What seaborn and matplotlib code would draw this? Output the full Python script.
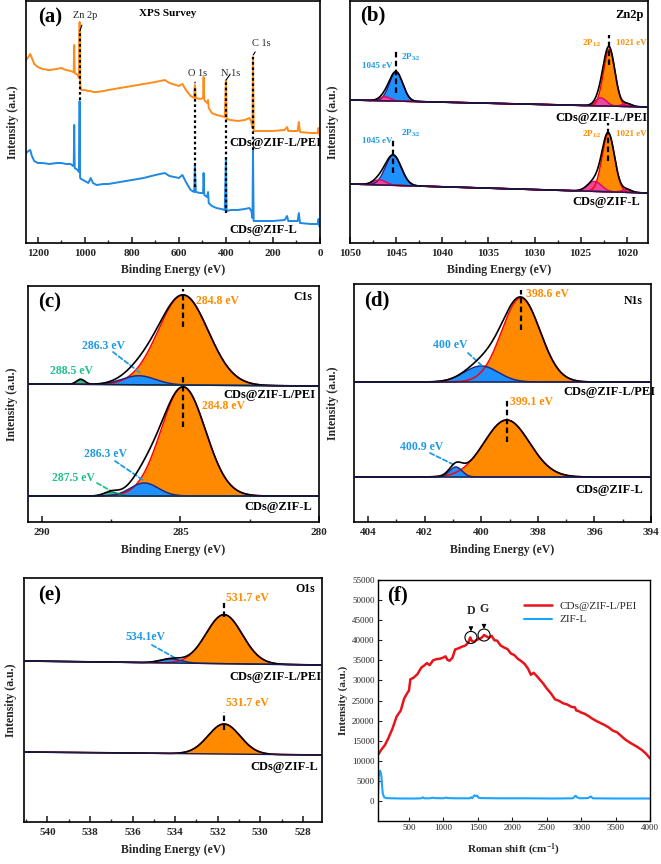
import numpy as np
import seaborn as sns
import matplotlib.pyplot as plt
from matplotlib.ticker import MultipleLocator

# ---------------- data ----------------
# (a) XPS survey, binding energy (eV) and intensity (a.u.)
survey_be = [1250, 1240, 1232, 1225, 1215, 1200, 1180, 1150, 1120, 1100,
             1080, 1060, 1050, 1047, 1045, 1043, 1030, 1025, 1022, 1020,
             1015, 1000, 985, 975, 965, 950, 920, 900, 850, 800,
             750, 700, 660, 640, 600, 585, 570, 550, 535, 532,
             528, 510, 497, 495, 492, 480, 476, 473, 460, 440,
             420, 405, 400, 397, 380, 350, 320, 300, 292, 287,
             285, 282, 260, 200, 150, 140, 135, 95, 90, 85,
             40, 10, 6, 3, 0]
survey_pei = [183, 186, 189, 185, 179, 176, 174, 173, 174, 175,
              173, 172, 171, 171, 198, 170, 168, 165, 221, 158,
              153, 153, 152, 152, 151, 151, 152, 153, 155, 157,
              159, 161, 163, 160, 157, 159, 153, 147, 145, 158,
              145, 144, 145, 166, 143, 140, 143, 135, 130, 128,
              127, 126, 163, 124, 123, 122, 123, 125, 121, 115,
              186, 112, 112, 112, 113, 116, 112, 112, 121, 111,
              110, 110, 115, 109, 107]
survey_zifl = [90, 92, 93, 87, 82, 80, 80, 79, 80, 80,
               79, 79, 77, 77, 118, 75, 73, 71, 142, 65,
               64, 62, 60, 65, 60, 58, 59, 59, 61, 63,
               65, 68, 70, 67, 65, 68, 61, 53, 51, 78,
               51, 50, 50, 70, 48, 46, 51, 40, 37, 35,
               34, 33, 85, 32, 33, 33, 34, 35, 32, 25,
               93, 22, 22, 22, 23, 27, 22, 22, 30, 20,
               19, 19, 24, 17, 16]
survey_peak_be = [1021, 532, 399, 284]
survey_peak_names = ['Zn 2p', 'O 1s', 'N 1s', 'C 1s']

# (b) Zn2p fit components: 2P3/2, satellite, 2P1/2, satellite, satellite
zn_pei_center = [1045.0, 1046.2, 1021.9, 1022.8, 1020.0]
zn_pei_height = [29, 4, 57, 8, 3]
zn_pei_width = [0.72, 0.6, 0.62, 0.6, 0.5]
zn_pei_base = [143, 136]
zn_zifl_center = [1045.3, 1046.8, 1022.0, 1023.5, 1020.0]
zn_zifl_height = [30, 5, 58, 10, 3]
zn_zifl_width = [0.85, 0.7, 0.68, 0.75, 0.5]
zn_zifl_base = [59, 50]

# (c) C1s
c1s_pei_center = [284.9, 286.5, 288.6]
c1s_pei_height = [90, 9, 5]
c1s_pei_width = [0.9, 0.6, 0.15]
c1s_pei_base = [138, 136]
c1s_zifl_center = [284.9, 286.3, 287.5]
c1s_zifl_height = [109, 13, 4]
c1s_zifl_width = [0.8, 0.5, 0.25]
c1s_zifl_base = [26, 26]

# (d) N1s
n1s_pei_center = [398.6, 400.0]
n1s_pei_height = [84, 16]
n1s_pei_width = [0.68, 0.6]
n1s_pei_base = [140, 140]
n1s_zifl_center = [399.1, 400.9]
n1s_zifl_height = [57, 10]
n1s_zifl_width = [0.8, 0.22]
n1s_zifl_base = [45, 45]

# (e) O1s
o1s_pei_center = [531.7, 534.2]
o1s_pei_height = [49, 4]
o1s_pei_width = [0.85, 0.5]
o1s_pei_base = [161, 157]
o1s_zifl_center = [531.7]
o1s_zifl_height = [30]
o1s_zifl_width = [0.75]
o1s_zifl_base = [70, 67]

# (f) Raman
raman_shift = [50, 100, 150, 200, 260, 320, 380, 430, 470, 500,
               520, 560, 620, 680, 720, 760, 800, 850, 900, 950,
               1000, 1030, 1060, 1090, 1130, 1170, 1220, 1270, 1320, 1360,
               1390, 1410, 1440, 1480, 1520, 1560, 1590, 1620, 1660, 1700,
               1740, 1780, 1830, 1880, 1930, 1980, 2030, 2080, 2130, 2180,
               2230, 2270, 2310, 2350, 2400, 2450, 2500, 2560, 2620, 2680,
               2740, 2800, 2860, 2910, 2930, 2960, 3000, 3050, 3100, 3160,
               3220, 3280, 3340, 3400, 3460, 3520, 3580, 3640, 3700, 3760,
               3820, 3880, 3940, 4000]
raman_pei = [11500, 12800, 13900, 15600, 18000, 21000, 22500, 25500, 26700, 27500,
             30300, 30600, 31500, 33200, 33700, 34300, 33800, 35000, 35300, 35400,
             35700, 36000, 35100, 34900, 35600, 37700, 38000, 38400, 38700, 39400,
             40700, 39900, 39600, 40100, 40300, 40700, 41300, 41000, 40600, 41100,
             40000, 39900, 38700, 38200, 37800, 36700, 36300, 35400, 34800, 34100,
             32900, 31400, 31900, 31200, 30200, 29200, 28000, 26800, 25300, 24900,
             24300, 24000, 23400, 23300, 22500, 22400, 22000, 21700, 21200, 20500,
             19900, 19400, 18900, 18300, 17500, 17100, 16200, 15300, 14600, 14000,
             13400, 12700, 11800, 10600]
zif_shift = [50, 60, 70, 80, 90, 100, 110, 120, 140, 170,
             250, 400, 600, 680, 700, 720, 800, 850, 870, 1000,
             1040, 1060, 1200, 1380, 1400, 1420, 1450, 1470, 1490, 1510,
             1540, 1800, 2200, 2600, 2880, 2920, 2940, 2980, 3100, 3140,
             3170, 3500, 4000]
zif_int = [1500, 6000, 7300, 7500, 7000, 6000, 3500, 1800, 900, 700,
           650, 600, 600, 650, 900, 650, 650, 800, 700, 650,
           850, 700, 650, 650, 900, 700, 1400, 1200, 1300, 800,
           700, 650, 650, 600, 650, 1300, 900, 650, 700, 1100,
           650, 600, 600]
raman_band_shift = [1400, 1590]
raman_band_int = [40700, 41300]
raman_band_names = ['D', 'G']

# ---------------- style ----------------
ORANGE = '#FF8A00'
BLUE = '#1E90FF'
PINK = '#F0479E'
TEAL = '#2DC48F'
TXT_BLUE = '#1E9BE6'
TXT_ORANGE = '#FF8C00'
TXT_TEAL = '#22C08A'

sns.set_theme(style='ticks')
plt.rcParams['font.family'] = ['Liberation Serif', 'DejaVu Serif']
plt.rcParams['font.weight'] = 'bold'
plt.rcParams['axes.labelweight'] = 'bold'
plt.rcParams['mathtext.fontset'] = 'custom'
plt.rcParams['mathtext.rm'] = 'Liberation Serif:bold'
plt.rcParams['mathtext.bf'] = 'Liberation Serif:bold'
plt.rcParams['mathtext.it'] = 'Liberation Serif:bold'
plt.rcParams['mathtext.default'] = 'regular'

W, H = 661, 864
fig = plt.figure(figsize=(W / 100, H / 100), dpi=100)


def box(l, t, r, b):
    return [l / W, 1 - b / H, (r - l) / W, (b - t) / H]


def fp(x, y):
    return (x / W, 1 - y / H)


def label(x, y, s, size, color='black', weight='bold', ha='center'):
    fig.text(x / W, 1 - y / H, s, fontsize=size, color=color,
             fontweight=weight, ha=ha, va='center')


def gauss(x, c, h, w):
    return h * np.exp(-(x - c) ** 2 / (2 * w ** 2))


def style_xps(ax, xlim, ylim, major, minor, ylabelpad):
    ax.set_xlim(*xlim)
    ax.set_ylim(*ylim)
    ax.set_yticks([])
    ax.xaxis.set_major_locator(MultipleLocator(major))
    ax.xaxis.set_minor_locator(MultipleLocator(minor))
    ax.tick_params(axis='x', which='major', direction='in', length=4,
                   width=1.2, labelsize=8, pad=4)
    ax.tick_params(axis='x', which='minor', direction='in', length=2, width=1)
    for s in ax.spines.values():
        s.set_linewidth(1.2)
        s.set_color('black')
    ax.set_xlabel('Binding Energy (eV)', fontsize=8.5, labelpad=5)
    ax.set_ylabel('Intensity (a.u.)', fontsize=8.5, labelpad=ylabelpad)


def draw_fit(ax, xlim, base, centers, heights, widths, colors):
    x = np.linspace(xlim[0], xlim[1], 1500)
    bl = base[0] + (base[1] - base[0]) * (x - xlim[0]) / (xlim[1] - xlim[0])
    comps = [gauss(x, c, h, w) for c, h, w in zip(centers, heights, widths)]
    for i in np.argsort(heights)[::-1]:
        fill, edge = colors[i]
        ax.fill_between(x, bl, bl + comps[i], color=fill, lw=0, zorder=2)
        ax.plot(x, bl + comps[i], color=edge, lw=1.1, zorder=3)
    ax.plot(x, bl + np.sum(comps, axis=0), color='black', lw=1.2, zorder=4)
    ax.plot(x, bl, color='#1b1b4d', lw=1.0, zorder=4)


def vmark(ax, c, y0, y1):
    ax.plot([c, c], [y0, y1], color='black', lw=1.6, ls=(0, (2.5, 1.5)), zorder=5)


def leader(ax, xy, start, color):
    ax.annotate('', xy=xy, xytext=fp(*start), textcoords='figure fraction',
                arrowprops=dict(arrowstyle='-', color=color, lw=1.3,
                                ls=(0, (2.5, 1.5)), shrinkA=0, shrinkB=0))


C_OR = (ORANGE, 'red')
C_BL = (BLUE, '#1a2a8a')
C_PK = (PINK, '#d4106a')
C_TL = (TEAL, '#0f7f5f')

# ---------------- (a) survey ----------------
ax_a = fig.add_axes(box(26, 1, 320, 243))
sns.lineplot(x=survey_be, y=survey_pei, ax=ax_a, color='#FF8C1A', lw=1.4, sort=False)
sns.lineplot(x=survey_be, y=survey_zifl, ax=ax_a, color='#1E88E5', lw=1.4, sort=False)
style_xps(ax_a, (1250, 0), (0, 242), 200, 100, 5)
for be, y0, y1 in zip(survey_peak_be, [143, 56, 30, 93], [210, 157, 161, 186]):
    ax_a.plot([be, be], [y0, y1], color='black', lw=1.6, ls=(0, (1.2, 1.2)), zorder=5)
for be, name, y, pos in zip(survey_peak_be, survey_peak_names, [212, 160, 163, 188],
                            [(85, 16), (198, 73), (231, 73), (261, 43)]):
    ax_a.annotate(name, xy=(be, y), xytext=fp(*pos), textcoords='figure fraction',
                  ha='center', va='center', fontsize=7.5, fontweight='normal',
                  arrowprops=dict(arrowstyle='-', color='black', lw=0.8, shrinkA=1, shrinkB=0))
label(50, 17, '(a)', 15)
label(168, 14, 'XPS Survey', 8)
label(321, 143, 'CDs@ZIF-L/PEI', 9, ha='right')
label(297, 230, 'CDs@ZIF-L', 9, ha='right')

# ---------------- (b) Zn2p ----------------
ax_b = fig.add_axes(box(350, 1, 648, 243))
zn_colors = [C_BL, C_PK, C_OR, C_PK, C_PK]
xl_b = (1050, 1017.7)
draw_fit(ax_b, xl_b, zn_pei_base, zn_pei_center, zn_pei_height, zn_pei_width, zn_colors)
draw_fit(ax_b, xl_b, zn_zifl_base, zn_zifl_center, zn_zifl_height, zn_zifl_width, zn_colors)
style_xps(ax_b, xl_b, (0, 242), 5, 2.5, 8)
vmark(ax_b, zn_pei_center[0], 150, 193)
vmark(ax_b, zn_pei_center[2], 178, 208)
vmark(ax_b, zn_zifl_center[0], 70, 105)
vmark(ax_b, zn_zifl_center[2], 82, 120)
label(373, 15, '(b)', 15)
label(630, 15, 'Zn2p', 9)
for yy, y2, y3 in [(66, 57, 43), (141, 133, 134)]:
    label(377, yy, '1045 eV', 6.5, TXT_BLUE)
    label(411, y2, '2P$_{3/2}$', 6.5, TXT_BLUE)
    label(592, y3, '2P$_{1/2}$', 6.5, TXT_ORANGE)
    label(631, y3, '1021 eV', 6.5, TXT_ORANGE)
label(648, 118, 'CDs@ZIF-L/PEI', 9, ha='right')
label(640, 202, 'CDs@ZIF-L', 9, ha='right')

# ---------------- (c) C1s ----------------
ax_c = fig.add_axes(box(28, 286, 319, 522))
c_colors = [C_OR, C_BL, C_TL]
xl_c = (290.5, 280)
draw_fit(ax_c, xl_c, c1s_pei_base, c1s_pei_center, c1s_pei_height, c1s_pei_width, c_colors)
draw_fit(ax_c, xl_c, c1s_zifl_base, c1s_zifl_center, c1s_zifl_height, c1s_zifl_width, c_colors)
style_xps(ax_c, xl_c, (0, 236), 5, 2.5, 7)
vmark(ax_c, c1s_pei_center[0], 195, 233)
vmark(ax_c, c1s_zifl_center[0], 95, 147)
label(50, 302, '(c)', 15)
label(303, 297, 'C1s', 8.5)
label(218, 301, '284.8 eV', 8.5, TXT_ORANGE)
label(103, 346, '286.3 eV', 8.5, TXT_BLUE)
leader(ax_c, (c1s_pei_center[1] - 0.1, 148), (113, 352), TXT_BLUE)
label(72, 371, '288.5 eV', 8.5, TXT_TEAL)
label(224, 406, '284.8 eV', 8.5, TXT_ORANGE)
label(105, 454, '286.3 eV', 8.5, TXT_BLUE)
leader(ax_c, (c1s_zifl_center[1], 41), (115, 461), TXT_BLUE)
label(73, 478, '287.5 eV', 8.5, TXT_TEAL)
leader(ax_c, (c1s_zifl_center[2], 31), (97, 483), TXT_TEAL)
label(316, 395, 'CDs@ZIF-L/PEI', 9, ha='right')
label(312, 507, 'CDs@ZIF-L', 9, ha='right')

# ---------------- (d) N1s ----------------
ax_d = fig.add_axes(box(354, 284, 651, 522))
n_colors = [C_OR, C_BL]
xl_d = (404.5, 394)
draw_fit(ax_d, xl_d, n1s_pei_base, n1s_pei_center, n1s_pei_height, n1s_pei_width, n_colors)
draw_fit(ax_d, xl_d, n1s_zifl_base, n1s_zifl_center, n1s_zifl_height, n1s_zifl_width, n_colors)
style_xps(ax_d, xl_d, (0, 238), 2, 1, 11)
vmark(ax_d, n1s_pei_center[0], 192, 232)
vmark(ax_d, n1s_zifl_center[0], 80, 122)
label(377, 300, '(d)', 15)
label(633, 301, 'N1s', 8.5)
label(547, 294, '398.6 eV', 8.5, TXT_ORANGE)
label(450, 345, '400 eV', 8.5, TXT_BLUE)
leader(ax_d, (n1s_pei_center[1], 157), (468, 353), TXT_BLUE)
label(532, 402, '399.1 eV', 8.5, TXT_ORANGE)
label(422, 447, '400.9 eV', 8.5, TXT_BLUE)
leader(ax_d, (n1s_zifl_center[1] + 0.05, 57), (430, 453), TXT_BLUE)
label(655, 392, 'CDs@ZIF-L/PEI', 9, ha='right')
label(643, 490, 'CDs@ZIF-L', 9, ha='right')

# ---------------- (e) O1s ----------------
ax_e = fig.add_axes(box(24, 578, 322, 822))
o_colors = [C_OR, C_BL]
xl_e = (541.1, 527.1)
draw_fit(ax_e, xl_e, o1s_pei_base, o1s_pei_center, o1s_pei_height, o1s_pei_width, o_colors)
draw_fit(ax_e, xl_e, o1s_zifl_base, o1s_zifl_center, o1s_zifl_height, o1s_zifl_width, o_colors)
style_xps(ax_e, xl_e, (0, 244), 2, 1, 5)
vmark(ax_e, o1s_pei_center[0], 205, 219)
vmark(ax_e, o1s_zifl_center[0], 92, 110)
label(50, 595, '(e)', 15)
label(305, 589, 'O1s', 8.5)
label(247, 598, '531.7 eV', 8.5, TXT_ORANGE)
label(145, 637, '534.1eV', 8.5, TXT_BLUE)
leader(ax_e, (o1s_pei_center[1] - 0.2, 164), (152, 645), TXT_BLUE)
label(247, 703, '531.7 eV', 8.5, TXT_ORANGE)
label(322, 677, 'CDs@ZIF-L/PEI', 9, ha='right')
label(318, 767, 'CDs@ZIF-L', 9, ha='right')

# ---------------- (f) Raman ----------------
ax_f = fig.add_axes(box(378, 580, 650, 821))
sns.lineplot(x=raman_shift, y=raman_pei, ax=ax_f, color='#E8141B', lw=1.8,
             label='CDs@ZIF-L/PEI')
sns.lineplot(x=zif_shift, y=zif_int, ax=ax_f, color='#1AA3FF', lw=1.5, label='ZIF-L')
ax_f.set_xlim(50, 4000)
ax_f.set_ylim(-5000, 55000)
ax_f.set_xticks(np.arange(500, 4001, 500))
ax_f.set_yticks(np.arange(0, 55001, 5000))
ax_f.tick_params(direction='in', length=3, width=0.8, labelsize=6.5, pad=2.5)
for t in ax_f.get_xticklabels() + ax_f.get_yticklabels():
    t.set_fontweight('normal')
for s in ax_f.spines.values():
    s.set_linewidth(1.0)
    s.set_color('black')
ax_f.set_xlabel('Roman shift (cm$^{-1}$)', fontsize=8, labelpad=7)
ax_f.set_ylabel('Intensity (a.u.)', fontsize=8, labelpad=3)
ax_f.scatter(raman_band_shift, raman_band_int, s=75, facecolors='none',
             edgecolors='black', lw=0.8, zorder=5)
for sx, si, nm in zip(raman_band_shift, raman_band_int, raman_band_names):
    ax_f.annotate(nm, xy=(sx, si + 1500), xytext=(sx, si + 6500), ha='center',
                  va='center', fontsize=8.5,
                  arrowprops=dict(arrowstyle='-|>', color='black', lw=0.8,
                                  mutation_scale=6, shrinkA=5, shrinkB=0))
leg = ax_f.legend(loc='upper left', bbox_to_anchor=fp(518, 596),
                  bbox_transform=fig.transFigure, frameon=False, fontsize=8,
                  handlelength=2.6, borderpad=0, labelspacing=0.3, handletextpad=0.6)
for t in leg.get_texts():
    t.set_fontweight('normal')
label(398, 595, '(f)', 15)

fig.savefig('out.png', dpi=100)
